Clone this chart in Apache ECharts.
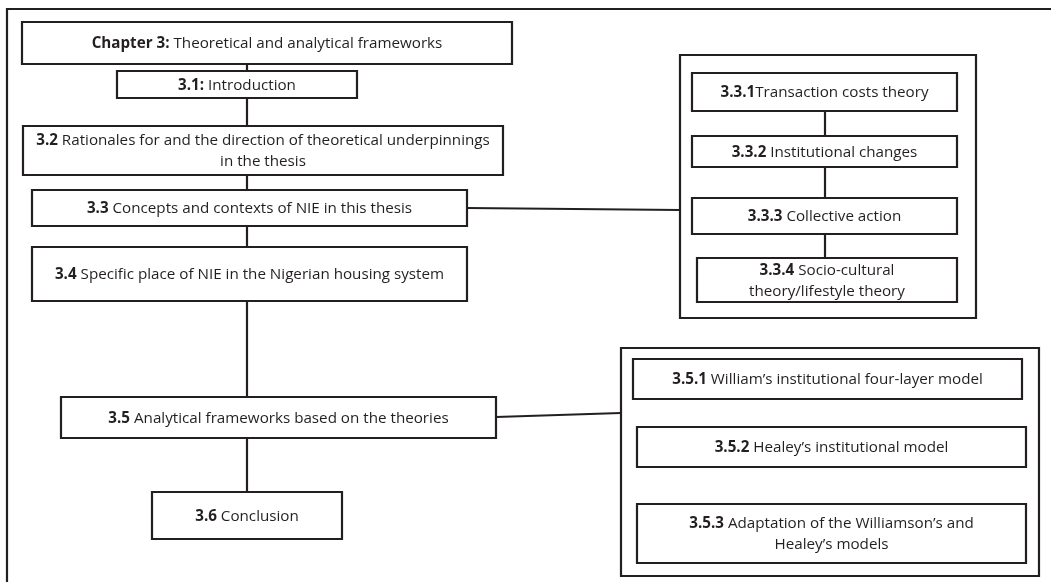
<!DOCTYPE html>
<html>
<head>
<meta charset="utf-8">
<script src="https://cdn.jsdelivr.net/npm/echarts@6/dist/echarts.min.js"></script>
<style>
  html, body { margin: 0; padding: 0; background: #fff; }
  #main { width: 1051px; height: 582px; }
</style>
</head>
<body>
<div id="main"></div>
<script>
// box labels: bold number part + normal text
const boldParts = ['Chapter 3:', '3.1:', '3.2', '3.3', '3.4', '3.5', '3.6',
  '3.3.1', '3.3.2', '3.3.3', '3.3.4', '3.5.1', '3.5.2', '3.5.3']
const textParts = [
  ' Theoretical and analytical frameworks',
  ' Introduction',
  ' Rationales for and the direction of theoretical underpinnings\nin the thesis',
  ' Concepts and contexts of NIE in this thesis',
  ' Specific place of NIE in the Nigerian housing system',
  ' Analytical frameworks based on the theories',
  ' Conclusion',
  'Transaction costs theory',
  ' Institutional changes',
  ' Collective action',
  ' Socio-cultural\ntheory/lifestyle theory',
  ' William\u2019s institutional four-layer model',
  ' Healey\u2019s institutional model',
  ' Adaptation of the Williamson\u2019s and\nHealey\u2019s models'
]

// diagram layout in page units [x0, y0, x1, y1]
const boxExtents = [
  [22, 22, 512, 64], [117, 71, 357, 98], [23, 126, 503, 175],
  [32, 190, 467, 226], [32, 247, 467, 301], [61, 397, 496, 438],
  [152, 492, 342, 539],
  [692, 73, 957, 111], [692, 136, 957, 167], [692, 198, 957, 234],
  [697, 258, 957, 302],
  [633, 359, 1022, 399], [637, 427, 1026, 467], [637, 504, 1026, 563]
]
// grouping frames (no text)
const frameExtents = [
  [7, 9, 1070, 600], [680, 55, 976, 318], [621, 348, 1039, 576]
]
// connectors
const connectors = [
  [[247, 64], [247, 71]], [[247, 98], [247, 126]], [[247, 175], [247, 190]],
  [[247, 226], [247, 247]], [[247, 301], [247, 397]], [[247, 438], [247, 492]],
  [[467, 208], [680, 210]], [[496, 417], [621, 413]],
  [[825, 111], [825, 136]], [[825, 167], [825, 198]], [[825, 234], [825, 258]]
]

const INK = '#231f20'
const FONT = '"Open Sans", Lato, sans-serif'
const SIZE = 15.2

const chart = echarts.init(document.getElementById('main'), null, { renderer: 'canvas' })

const rectItem = (params, api, withText) => {
  const p0 = api.coord([api.value(0), api.value(1)])
  const p1 = api.coord([api.value(2), api.value(3)])
  const children = [{
    type: 'rect',
    shape: { x: p0[0], y: p0[1], width: p1[0] - p0[0], height: p1[1] - p0[1] },
    style: { fill: withText ? '#fff' : 'none', stroke: INK, lineWidth: 2.2 }
  }]
  if (withText) {
    const i = params.dataIndex
    children.push({
      type: 'text',
      style: {
        x: (p0[0] + p1[0]) / 2,
        y: (p0[1] + p1[1]) / 2 + 1,
        text: '{b|' + boldParts[i] + '}' + textParts[i],
        align: 'center',
        verticalAlign: 'middle',
        fill: INK,
        fontFamily: FONT,
        fontSize: SIZE,
        lineHeight: 21,
        rich: {
          b: { fontWeight: 'bold', fontFamily: FONT, fontSize: SIZE, fill: INK, lineHeight: 21 }
        }
      }
    })
  }
  return { type: 'group', children }
}

chart.setOption({
  animation: false,
  grid: { left: 0, right: 0, top: 0, bottom: 0 },
  xAxis: { type: 'value', min: 0, max: 1051, show: false },
  yAxis: { type: 'value', min: 0, max: 582, inverse: true, show: false },
  series: [
    {
      type: 'custom',
      clip: false,
      silent: true,
      renderItem: (params, api) => rectItem(params, api, false),
      data: frameExtents
    },
    {
      type: 'lines',
      coordinateSystem: 'cartesian2d',
      silent: true,
      lineStyle: { color: INK, width: 2.2, opacity: 1 },
      data: connectors.map(c => ({ coords: c }))
    },
    {
      type: 'custom',
      clip: false,
      silent: true,
      renderItem: (params, api) => rectItem(params, api, true),
      data: boxExtents
    }
  ]
})
</script>
</body>
</html>
